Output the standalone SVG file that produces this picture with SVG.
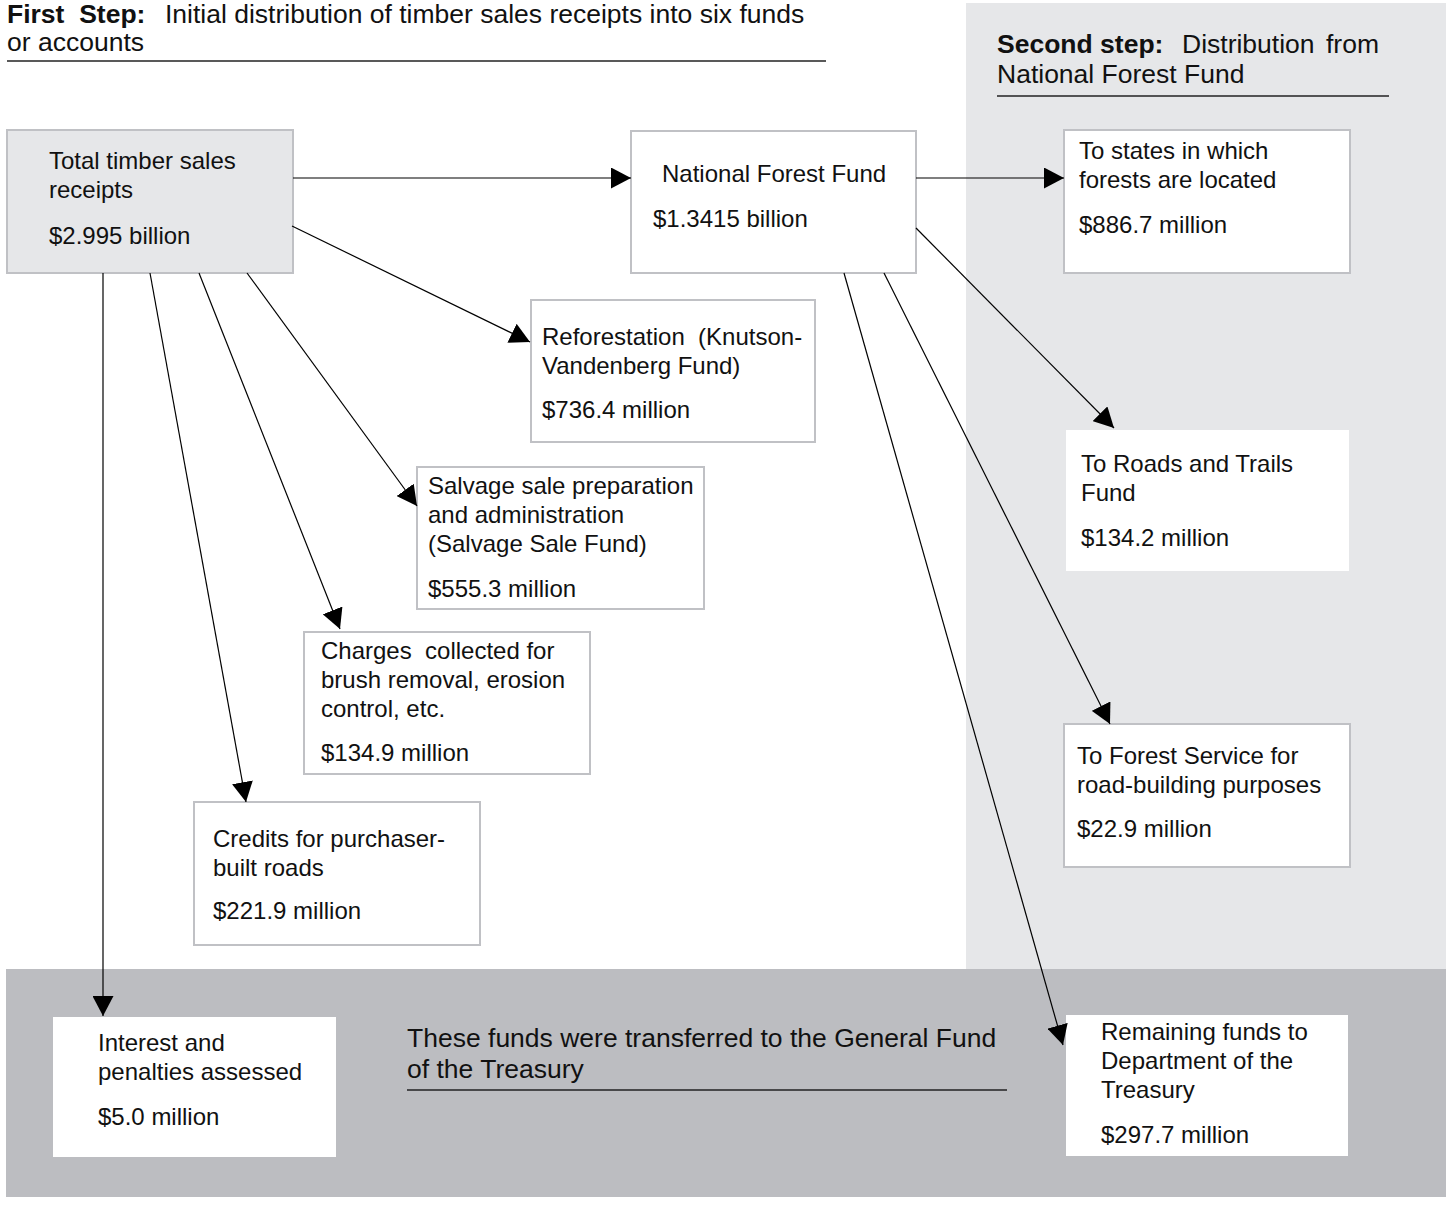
<svg xmlns="http://www.w3.org/2000/svg" width="1452" height="1205" viewBox="0 0 1452 1205">
<style>
text{font-family:"Liberation Sans",Arial,sans-serif;fill:#111;white-space:pre}
.n{font-size:24px}
.h{font-size:26.5px}
.b{font-weight:bold}
.box{fill:#fff;stroke:#c0c1c5;stroke-width:2}
.gbox{fill:#e6e7e9;stroke:#c0c1c5;stroke-width:2}
.plain{fill:#fff}
.rule{stroke:#222;stroke-width:1.5}
.c line{stroke:#000;stroke-width:1.2;marker-end:url(#ah)}
</style>
<defs>
<marker id="ah" markerUnits="userSpaceOnUse" viewBox="0 0 20 21" markerWidth="20" markerHeight="21" refX="20" refY="10.5" orient="auto"><path d="M0,0 L20,10.5 L0,21 z" fill="#000"/></marker>
</defs>
<rect width="1452" height="1205" fill="#fff"/>
<g id="panels">
<rect x="966" y="3" width="480" height="966" fill="#e6e7e9"/>
<rect x="6" y="969" width="1440" height="228" fill="#bcbdc1"/>
</g>
<g id="title1">
<text class="h" y="23"><tspan x="7" class="b">First  Step:</tspan><tspan x="165">Initial distribution of timber sales receipts into six funds</tspan></text>
<text class="h" x="7" y="51">or accounts</text>
<line class="rule" x1="7" y1="61" x2="826" y2="61"/>
</g>
<g id="title2">
<text class="h" y="53"><tspan x="997" class="b">Second step:</tspan><tspan x="1182">Distribution</tspan><tspan x="1326">from</tspan></text>
<text class="h" x="997" y="83">National Forest Fund</text>
<line class="rule" x1="997" y1="96" x2="1389" y2="96"/>
</g>
<g id="note">
<text class="h" x="407" y="1047">These funds were transferred to the General Fund</text>
<text class="h" x="407" y="1078">of the Treasury</text>
<line class="rule" x1="407" y1="1090" x2="1007" y2="1090"/>
</g>
<g id="total">
<rect class="gbox" x="7" y="130" width="286" height="143"/>
<text class="n" x="49" y="169">Total timber sales</text>
<text class="n" x="49" y="198">receipts</text>
<text class="n" x="49" y="244">$2.995 billion</text>
</g>
<g id="nff">
<rect class="box" x="631" y="131" width="285" height="142"/>
<text class="n" x="662" y="182">National Forest Fund</text>
<text class="n" x="653" y="227">$1.3415 billion</text>
</g>
<g id="states">
<rect class="box" x="1064" y="130" width="286" height="143"/>
<text class="n" x="1079" y="159">To states in which</text>
<text class="n" x="1079" y="188">forests are located</text>
<text class="n" x="1079" y="233">$886.7 million</text>
</g>
<g id="reforestation">
<rect class="box" x="531" y="300" width="284" height="142"/>
<text class="n" x="542" y="345">Reforestation  (Knutson-</text>
<text class="n" x="542" y="374">Vandenberg Fund)</text>
<text class="n" x="542" y="418">$736.4 million</text>
</g>
<g id="salvage">
<rect class="box" x="417" y="467" width="287" height="142"/>
<text class="n" x="428" y="494">Salvage sale preparation</text>
<text class="n" x="428" y="523">and administration</text>
<text class="n" x="428" y="552">(Salvage Sale Fund)</text>
<text class="n" x="428" y="597">$555.3 million</text>
</g>
<g id="charges">
<rect class="box" x="304" y="632" width="286" height="142"/>
<text class="n" x="321" y="659">Charges  collected for</text>
<text class="n" x="321" y="688">brush removal, erosion</text>
<text class="n" x="321" y="717">control, etc.</text>
<text class="n" x="321" y="761">$134.9 million</text>
</g>
<g id="credits">
<rect class="box" x="194" y="802" width="286" height="143"/>
<text class="n" x="213" y="847">Credits for purchaser-</text>
<text class="n" x="213" y="876">built roads</text>
<text class="n" x="213" y="919">$221.9 million</text>
</g>
<g id="roads">
<rect class="plain" x="1066" y="430" width="283" height="141"/>
<text class="n" x="1081" y="472">To Roads and Trails</text>
<text class="n" x="1081" y="501">Fund</text>
<text class="n" x="1081" y="546">$134.2 million</text>
</g>
<g id="forestservice">
<rect class="box" x="1064" y="724" width="286" height="143"/>
<text class="n" x="1077" y="764">To Forest Service for</text>
<text class="n" x="1077" y="793">road-building purposes</text>
<text class="n" x="1077" y="837">$22.9 million</text>
</g>
<g id="interest">
<rect class="plain" x="53" y="1017" width="283" height="140"/>
<text class="n" x="98" y="1051">Interest and</text>
<text class="n" x="98" y="1080">penalties assessed</text>
<text class="n" x="98" y="1125">$5.0 million</text>
</g>
<g id="remaining">
<rect class="plain" x="1066" y="1015" width="282" height="141"/>
<text class="n" x="1101" y="1040">Remaining funds to</text>
<text class="n" x="1101" y="1069">Department of the</text>
<text class="n" x="1101" y="1098">Treasury</text>
<text class="n" x="1101" y="1143">$297.7 million</text>
</g>
<g id="connectors" class="c">
<line x1="293" y1="178" x2="631" y2="178"/>
<line x1="916" y1="178" x2="1064" y2="178"/>
<line x1="292" y1="226" x2="530" y2="342"/>
<line x1="247" y1="273" x2="417" y2="506"/>
<line x1="199" y1="273" x2="340" y2="629"/>
<line x1="150" y1="273" x2="246" y2="802"/>
<line x1="103" y1="273" x2="103" y2="1016"/>
<line x1="916" y1="228" x2="1114" y2="428"/>
<line x1="884" y1="273" x2="1110" y2="724"/>
<line x1="844" y1="273" x2="1063" y2="1045"/>
</g>
</svg>
